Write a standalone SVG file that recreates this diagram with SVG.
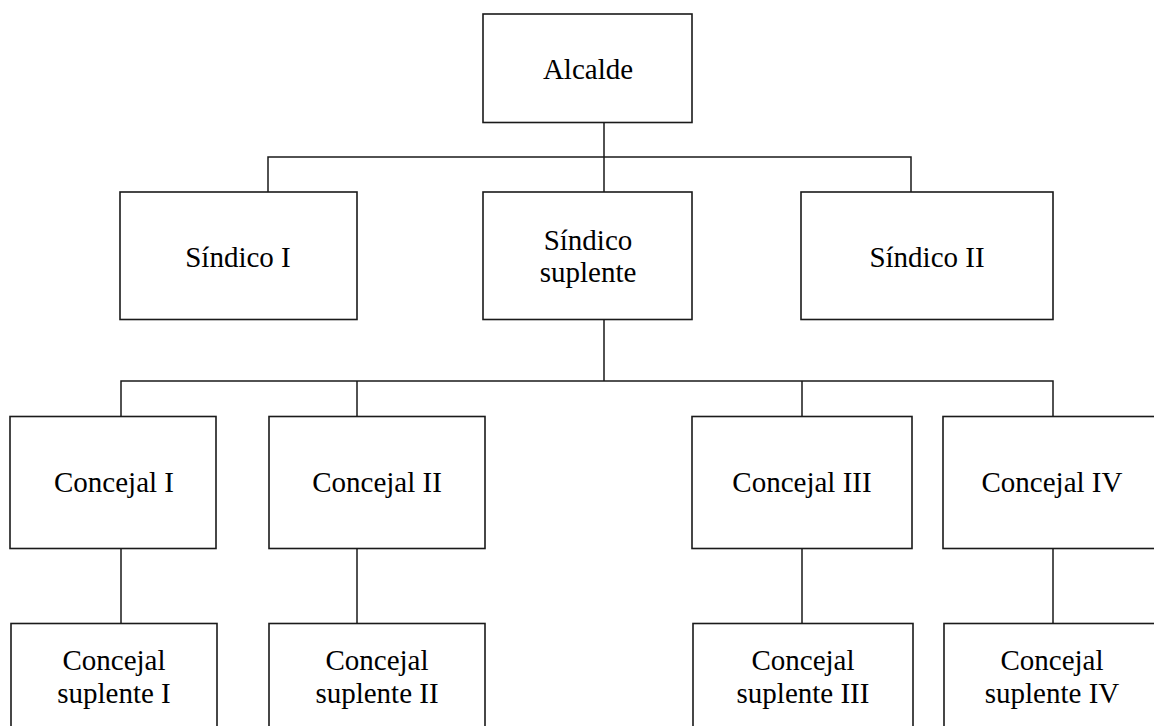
<svg xmlns="http://www.w3.org/2000/svg" width="1154" height="726" viewBox="0 0 1154 726">
<style>
.box{fill:#fff;stroke:#1a1a1a;stroke-width:1.6}
.ln{fill:none;stroke:#1a1a1a;stroke-width:1.5}
text{font-family:"Liberation Serif","Times New Roman","DejaVu Serif",serif;font-size:29px;fill:#000;text-anchor:middle}
</style>
<rect width="1154" height="726" fill="#fff"/>
<g id="connectors">
<path class="ln" d="M604 122.5V192M268 192V157H911V192"/>
<path class="ln" d="M604 319.5V381M121 416.5V381H1053V416.5M357 381V416.5M802 381V416.5"/>
<path class="ln" d="M121 548.5V623.5M357 548.5V623.5M802 548.5V623.5M1053 548.5V623.5"/>
</g>
<g id="alcalde"><rect class="box" x="483" y="14" width="209" height="108.5"/><text x="588" y="79">Alcalde</text></g>
<g id="sindico1"><rect class="box" x="120" y="192" width="237" height="127.5"/><text x="238" y="267">Síndico I</text></g>
<g id="sindicoSuplente"><rect class="box" x="483" y="192" width="209" height="127.5"/><text x="588" y="250">Síndico</text><text x="588" y="282">suplente</text></g>
<g id="sindico2"><rect class="box" x="801" y="192" width="252" height="127.5"/><text x="927" y="267">Síndico II</text></g>
<g id="concejal1"><rect class="box" x="10" y="416.5" width="206" height="132"/><text x="114" y="492">Concejal I</text></g>
<g id="concejal2"><rect class="box" x="269" y="416.5" width="216" height="132"/><text x="377" y="492">Concejal II</text></g>
<g id="concejal3"><rect class="box" x="692" y="416.5" width="220" height="132"/><text x="802" y="492">Concejal III</text></g>
<g id="concejal4"><rect class="box" x="943" y="416.5" width="220" height="132"/><text x="1052" y="492">Concejal IV</text></g>
<g id="suplente1"><rect class="box" x="11" y="623.5" width="206" height="120"/><text x="114" y="670">Concejal</text><text x="114" y="703">suplente I</text></g>
<g id="suplente2"><rect class="box" x="269" y="623.5" width="216" height="120"/><text x="377" y="670">Concejal</text><text x="377" y="703">suplente II</text></g>
<g id="suplente3"><rect class="box" x="693" y="623.5" width="220" height="120"/><text x="803" y="670">Concejal</text><text x="803" y="703">suplente III</text></g>
<g id="suplente4"><rect class="box" x="944" y="623.5" width="220" height="120"/><text x="1052" y="670">Concejal</text><text x="1052" y="703">suplente IV</text></g>
</svg>
